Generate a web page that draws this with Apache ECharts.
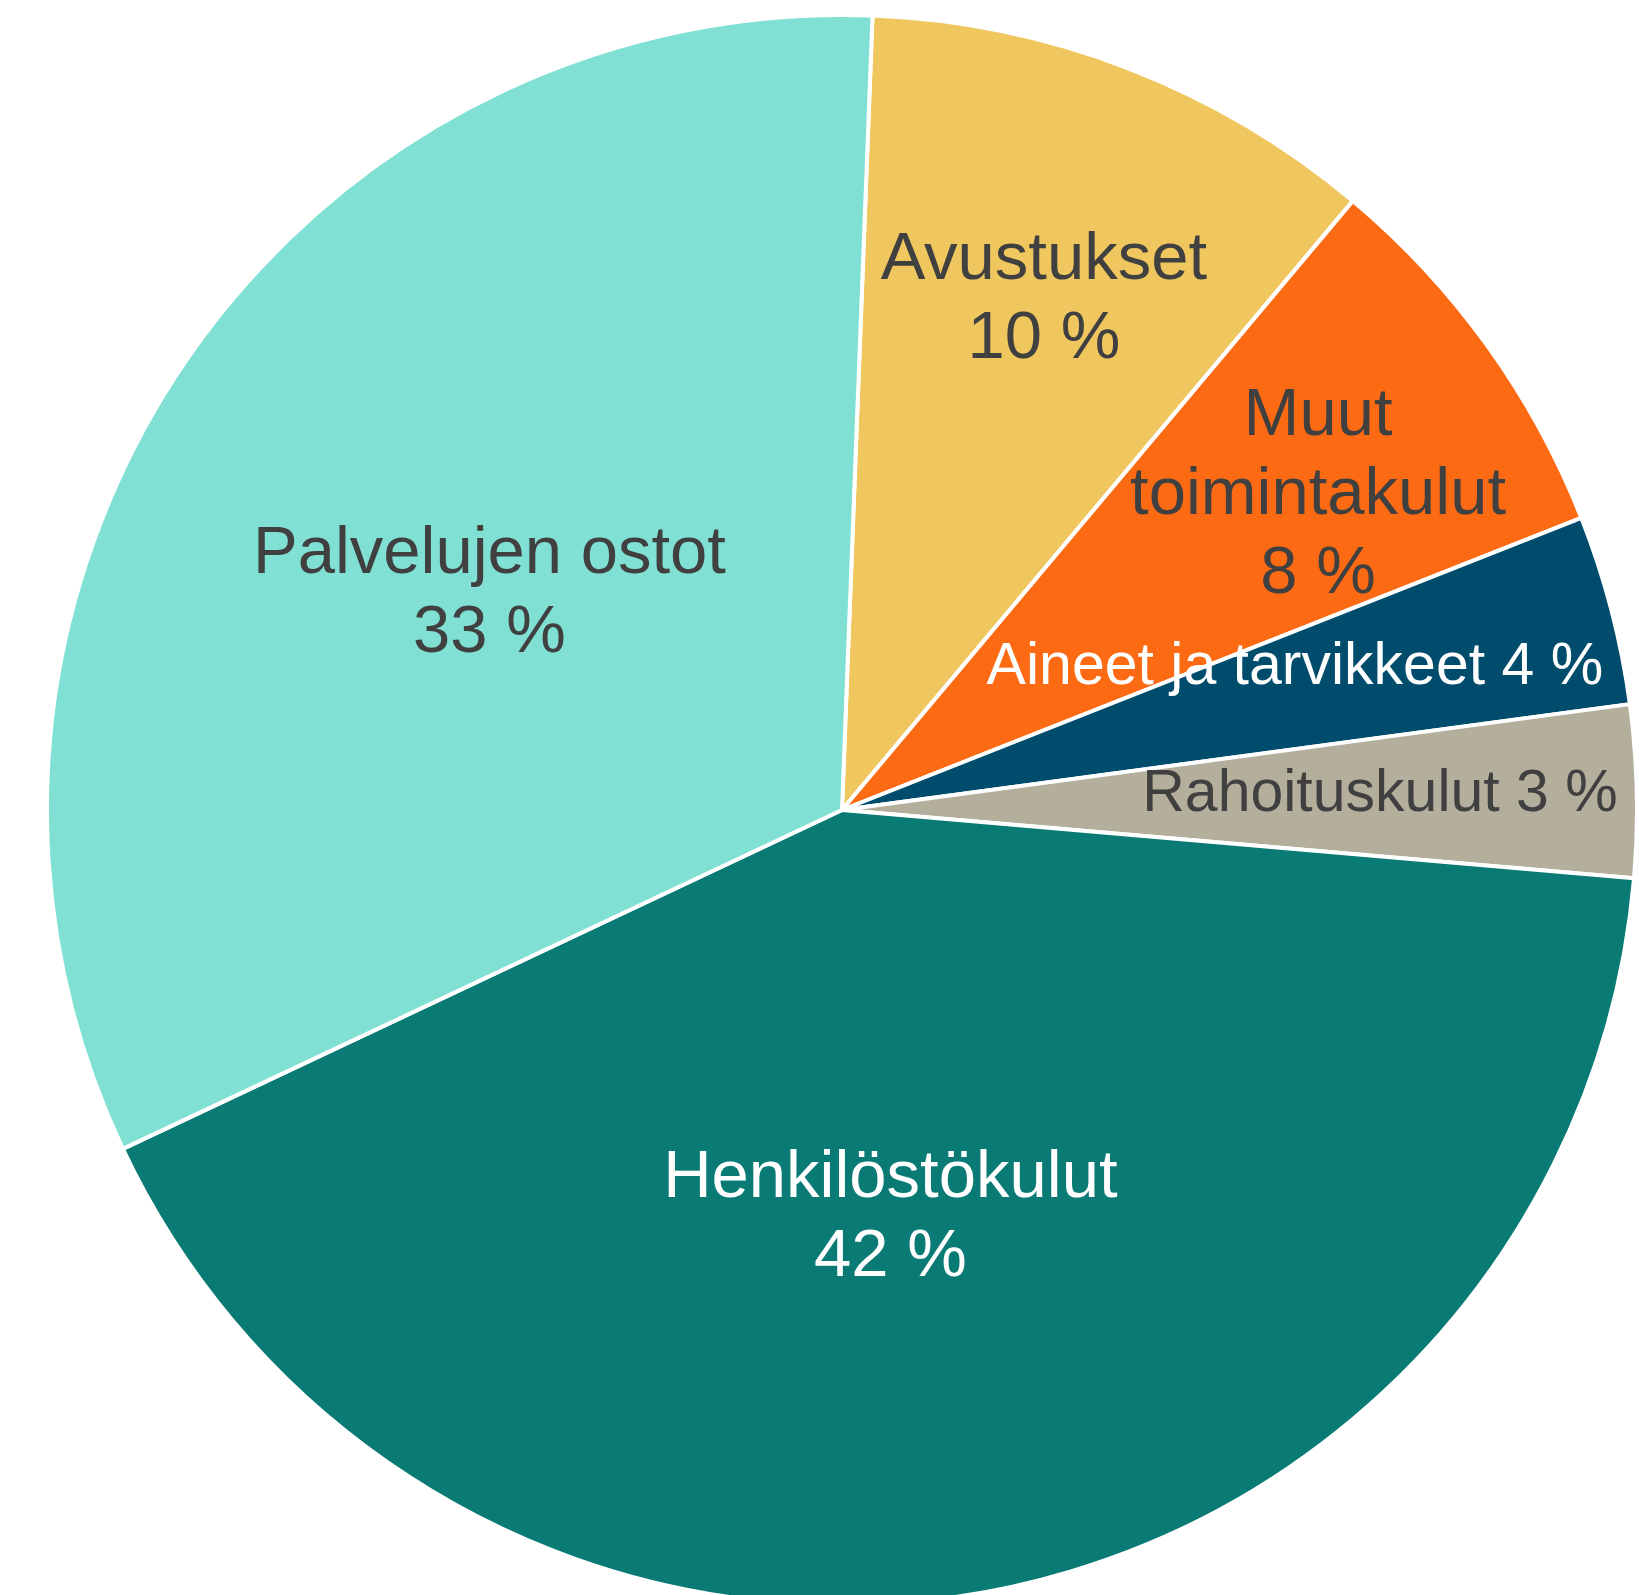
<!DOCTYPE html>
<html>
<head>
<meta charset="utf-8">
<script src="https://cdn.jsdelivr.net/npm/echarts@6/dist/echarts.min.js"></script>
<style>
html,body{margin:0;padding:0;background:#fff;}
#chart{width:1639px;height:1595px;}
</style>
</head>
<body>
<div id="chart"></div>
<script>
const categories = ["Avustukset", "Muut\ntoimintakulut", "Aineet ja tarvikkeet", "Rahoituskulut", "Henkilöstökulut", "Palvelujen ostot"];
const shares = [10.49, 7.9, 3.86, 3.49, 41.6, 32.6];
const colors = ["#F0C75E", "#FC6B14", "#004C6D", "#B3AF9C", "#0A7A74", "#80E0D3"];
const singleLine = [false, false, true, true, false, false];
const darkText = [true, true, false, true, false, true];
// label placement: distance from centre as fraction of radius, and angular nudge in degrees (clockwise)
const labelRadiusFrac = [0.69, 0.718, 0.597, 0.677, 0.517, 0.52];
const labelAngleNudge = [0.5, 2.3, -2.8, -0.3, 3.4, -2.0];

const CX = 842, CY = 810, R = 795;

const chart = echarts.init(document.getElementById('chart'), null, {renderer: 'canvas'});
const data = categories.map((c, i) => ({
  name: c,
  value: shares[i],
  itemStyle: {color: colors[i]},
  label: {
    color: darkText[i] ? '#404040' : '#ffffff',
    fontSize: singleLine[i] ? 59 : 67,
    lineHeight: singleLine[i] ? 66 : 79
  }
}));

chart.setOption({
  animation: false,
  backgroundColor: '#ffffff',
  series: [{
    type: 'pie',
    center: [CX, CY],
    radius: [0, R],
    startAngle: 87.8,
    clockwise: true,
    data: data,
    itemStyle: {borderColor: '#ffffff', borderWidth: 4},
    label: {
      show: true,
      position: 'inside',
      fontFamily: '"Liberation Sans", Arial, sans-serif',
      align: 'center',
      formatter: function (p) {
        const pct = Math.round(p.value) + ' %';
        return singleLine[p.dataIndex] ? p.name + ' ' + pct : p.name + '\n' + pct;
      }
    },
    labelLine: {show: false},
    labelLayout: function (params) {
      const r = params.labelRect;
      const i = params.dataIndex;
      const lx = r.x + r.width / 2, ly = r.y + r.height / 2;
      const a = Math.atan2(lx - CX, -(ly - CY)) + labelAngleNudge[i] * Math.PI / 180;
      const rr = labelRadiusFrac[i] * R;
      const tx = CX + rr * Math.sin(a), ty = CY - rr * Math.cos(a);
      return {dx: tx - lx, dy: ty - ly};
    }
  }]
});
</script>
</body>
</html>
